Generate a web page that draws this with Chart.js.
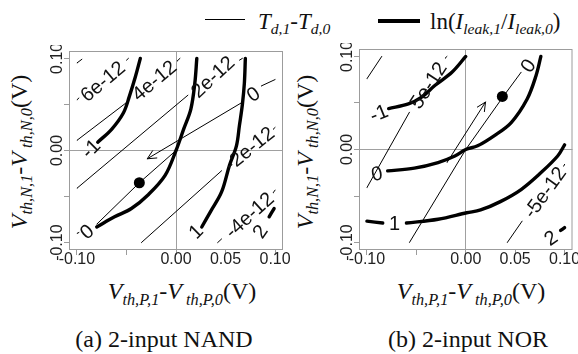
<!DOCTYPE html>
<html>
<head>
<meta charset="utf-8">
<script src="https://cdn.jsdelivr.net/npm/chart.js@4.4.1/dist/chart.umd.min.js"></script>
<style>
  html, body { margin: 0; padding: 0; background: #fff; }
  body { width: 578px; height: 354px; position: relative; overflow: hidden;
         font-family: 'Liberation Serif', 'Times New Roman', serif; color: #111; }
  canvas { position: absolute; }
  .txt { position: absolute; white-space: nowrap; line-height: 1; }
  .it { font-style: italic; }
  .sb { font-size: 0.68em; vertical-align: -0.34em; font-style: italic; }
  .key { position: absolute; height: 0; }
  .ytitle { transform: translate(-50%, -50%) rotate(-90deg); font-size: 24px; }
  .xtitle { transform: translateX(-50%); font-size: 24px; }
  .cap { transform: translateX(-50%); font-size: 24px; }
</style>
</head>
<body>

<div class="key" style="left:205px; top:19px; width:40px; border-top:1.4px solid #000"></div>
<div class="txt" style="left:258px; top:10px; font-size:23px"><span class="it">T</span><span class="sb">d,1</span>-<span class="it">T</span><span class="sb">d,0</span></div>
<div class="key" style="left:378px; top:19px; width:42px; border-top:4px solid #000"></div>
<div class="txt" style="left:430px; top:10px; font-size:23px">ln(<span class="it">I</span><span class="sb">leak,1</span>/<span class="it">I</span><span class="sb">leak,0</span>)</div>

<div class="txt ytitle" style="left:21px; top:152px"><span class="it">V</span><span class="sb">th,N,1</span>-<span class="it">V</span><span class="sb">&nbsp;th,N,0</span>(V)</div>
<div class="txt ytitle" style="left:307px; top:152px"><span class="it">V</span><span class="sb">th,N,1</span>-<span class="it">V</span><span class="sb">&nbsp;th,N,0</span>(V)</div>

<div class="txt xtitle" style="left:182px; top:279px"><span class="it">V</span><span class="sb">th,P,1</span>-<span class="it">V</span><span class="sb">&nbsp;th,P,0</span>(V)</div>
<div class="txt xtitle" style="left:471px; top:279px"><span class="it">V</span><span class="sb">th,P,1</span>-<span class="it">V</span><span class="sb">&nbsp;th,P,0</span>(V)</div>

<div class="txt cap" style="left:164px; top:327px">(a) 2-input NAND</div>
<div class="txt cap" style="left:468px; top:327px">(b) 2-input NOR</div>

<canvas id="nand" width="250" height="240" style="left:40px; top:45px"></canvas>
<canvas id="nor" width="248" height="242" style="left:330px; top:43px"></canvas>

<script>
// axis ticks (R dropped the labels at +-0.05)
const xTicks = [-0.10, -0.05, 0.00, 0.05, 0.10];
const xTickLabels = ['-0.10', '', '0.00', '0.05', '0.10'];
const yTicks = [-0.10, -0.05, 0.00, 0.05, 0.10];
const yTickLabels = ['-0.10', '', '0.00', '', '0.10'];

// ---- (a) NAND ----
// thin lines: delay contours, split where the labels sit
const nandDelay8 = [[[-0.100, 0.095], [-0.095, 0.099]]];
const nandDelay6 = [[[-0.100, 0.055], [-0.098, 0.057]], [[-0.050, 0.098], [-0.048, 0.100]]];
const nandDelay4 = [[[-0.100, 0.011], [-0.050, 0.052]], [[0.001, 0.097], [0.004, 0.100]]];
const nandDelay2 = [[[-0.100, -0.041], [0.012, 0.060]], [[0.064, 0.098], [0.067, 0.100]]];
const nandDelay0 = [[[-0.100, -0.090], [-0.098, -0.089]], [[-0.080, -0.080], [-0.037, -0.035], [0.000, 0.000]],
                    [[0.086, 0.070], [0.100, 0.077]]];
const nandDelayM2 = [[[-0.035, -0.100], [0.046, -0.022]], [[0.098, 0.023], [0.100, 0.025]]];
const nandDelayM4 = [[[0.042, -0.100], [0.046, -0.096]], [[0.098, -0.046], [0.100, -0.043]]];
// thick lines: ln(Ileak,1/Ileak,0) contours
const nandLeakM1 = [[[-0.079, 0.009], [-0.065, 0.023], [-0.053, 0.041], [-0.047, 0.059], [-0.041, 0.080], [-0.036, 0.100]]];
const nandLeak0 = [[[0.021, 0.100], [0.019, 0.073], [0.015, 0.045], [0.008, 0.024], [0.000, 0.000], [-0.011, -0.027],
                    [-0.028, -0.048], [-0.045, -0.063], [-0.062, -0.072], [-0.080, -0.083]]];
const nandLeak1 = [[[0.070, 0.100], [0.069, 0.073], [0.067, 0.050], [0.064, 0.027], [0.061, 0.005], [0.054, -0.016],
                    [0.046, -0.045], [0.035, -0.066], [0.026, -0.083]]];
const nandLeak2 = [[[0.094, -0.072], [0.099, -0.063]]];
const nandArrow = [[0.068, 0.053], [-0.029, -0.009]];
const nandPoint = [-0.037, -0.035];
const nandLabels = [
  ['6e-12', -0.074, 0.075, -40], ['4e-12', -0.022, 0.076, -40], ['2e-12', 0.037, 0.080, -43],
  ['0', 0.078, 0.061, -35], ['-2e-12', 0.074, 0.002, -39], ['-4e-12', 0.074, -0.070, -42],
  ['-1', -0.086, 0.002, -45], ['0', -0.090, -0.088, -40], ['1', 0.020, -0.088, -45], ['2', 0.085, -0.088, -55]
];

// ---- (b) NOR ----
const norDelay10 = [[[-0.100, 0.076], [-0.085, 0.100]]];
const norDelay5 = [[[-0.100, -0.041], [-0.057, 0.040]], [[-0.021, 0.098], [-0.019, 0.100]]];
const norDelay0 = [[[-0.057, -0.100], [0.000, 0.000], [0.038, 0.057], [0.056, 0.083]]];
const norDelayM5 = [[[0.042, -0.100], [0.057, -0.077]], [[0.099, -0.018], [0.100, -0.016]]];
const norLeakM1 = [[[-0.078, 0.044], [-0.058, 0.049], [-0.045, 0.056], [-0.031, 0.069], [-0.014, 0.083], [0.000, 0.100]]];
const norLeak0 = [[[0.076, 0.100], [0.071, 0.079], [0.062, 0.054], [0.046, 0.029], [0.029, 0.015], [0.012, 0.004],
                   [0.000, 0.000], [-0.011, -0.007], [-0.028, -0.014], [-0.052, -0.020], [-0.079, -0.023]]];
const norLeak1 = [[[-0.100, -0.077], [-0.084, -0.079]],
                  [[-0.060, -0.079], [-0.028, -0.075], [0.001, -0.068], [0.015, -0.065], [0.035, -0.056],
                   [0.056, -0.043], [0.076, -0.025], [0.093, -0.007], [0.100, 0.005]]];
const norLeak2 = [[[0.096, -0.087], [0.100, -0.084]]];
const norArrow = [[-0.019, -0.014], [0.020, 0.051]];
const norPoint = [0.037, 0.057];
const norLabels = [
  ['-1', -0.088, 0.039, -22], ['5e-12', -0.038, 0.069, -57], ['0', 0.063, 0.090, -55],
  ['0', -0.090, -0.026, -12], ['1', -0.072, -0.079, 0], ['-5e-12', 0.080, -0.046, -54], ['2', 0.086, -0.095, -35]
];

function lineSets(segs, width, tension) {
  return segs.map(seg => ({
    data: seg.map(p => ({ x: p[0], y: p[1] })),
    showLine: true,
    borderColor: '#000',
    borderWidth: width,
    pointRadius: 0,
    tension: tension,
    borderCapStyle: 'round',
    borderJoinStyle: 'round'
  }));
}

const extras = {
  id: 'extras',
  beforeDatasetsDraw(chart) {
    const a = chart.chartArea;
    const ctx = chart.ctx;
    ctx.save();
    ctx.strokeStyle = '#9c9c9c';
    ctx.lineWidth = 1;
    ctx.strokeRect(a.left + 0.5, a.top + 0.5, a.right - a.left - 1, a.bottom - a.top - 1);
    ctx.restore();
  },
  afterDatasetsDraw(chart, args, opts) {
    const ctx = chart.ctx;
    const xs = chart.scales.x, ys = chart.scales.y;
    ctx.save();
    // arrow head
    const t = opts.arrow[0], h = opts.arrow[1];
    const x1 = xs.getPixelForValue(t[0]), y1 = ys.getPixelForValue(t[1]);
    const x2 = xs.getPixelForValue(h[0]), y2 = ys.getPixelForValue(h[1]);
    const ang = Math.atan2(y2 - y1, x2 - x1);
    ctx.strokeStyle = '#000';
    ctx.lineWidth = 1;
    ctx.beginPath();
    [-0.45, 0.45].forEach(d => {
      ctx.moveTo(x2, y2);
      ctx.lineTo(x2 - 10 * Math.cos(ang + d), y2 - 10 * Math.sin(ang + d));
    });
    ctx.stroke();
    // contour labels
    ctx.fillStyle = '#111';
    ctx.font = '20px "Liberation Sans", Arial, sans-serif';
    ctx.textAlign = 'center';
    ctx.textBaseline = 'middle';
    opts.labels.forEach(l => {
      ctx.save();
      ctx.translate(xs.getPixelForValue(l[1]), ys.getPixelForValue(l[2]));
      ctx.rotate(l[3] * Math.PI / 180);
      ctx.fillText(l[0], 0, 1);
      ctx.restore();
    });
    // y tick labels, vertical like R
    ctx.fillStyle = '#222';
    ctx.font = '16px "Liberation Sans", Arial, sans-serif';
    yTicks.forEach((v, i) => {
      if (!yTickLabels[i]) return;
      ctx.save();
      ctx.translate(chart.chartArea.left - 11, ys.getPixelForValue(v));
      ctx.rotate(-Math.PI / 2);
      ctx.fillText(yTickLabels[i], 0, 0);
      ctx.restore();
    });
    ctx.restore();
  }
};

function zeroLine(c) {
  return c.tick && Math.abs(c.tick.value) < 1e-9 ? '#a0a0a0' : 'rgba(0,0,0,0)';
}

function makePanel(id, thin, thick, arrow, point, labels, padTop, padRight) {
  const datasets = [].concat(
    lineSets(thin, 1, 0),
    lineSets(thick, 3.4, 0.35),
    lineSets([arrow], 1, 0),
    [{ data: [{ x: point[0], y: point[1] }], pointRadius: 5.5, pointBackgroundColor: '#000', pointBorderWidth: 0 }]
  );
  return new Chart(document.getElementById(id), {
    type: 'scatter',
    data: { datasets },
    options: {
      responsive: false,
      animation: false,
      events: [],
      layout: { padding: { top: padTop, right: padRight, left: 0, bottom: 0 } },
      plugins: { legend: { display: false }, tooltip: { enabled: false }, extras: { arrow, labels } },
      scales: {
        x: {
          type: 'linear', min: -0.108, max: 0.108,
          afterBuildTicks: s => { s.ticks = xTicks.map(v => ({ value: v })); },
          afterFit: s => { s.height = 35; },
          ticks: { callback: (v, i) => xTickLabels[i], autoSkip: false, maxRotation: 0, padding: -5,
                   color: '#222', font: { family: 'Liberation Sans', size: 16 } },
          grid: { color: zeroLine, tickColor: '#9c9c9c', tickLength: 5 },
          border: { display: false }
        },
        y: {
          type: 'linear', min: -0.108, max: 0.108,
          afterBuildTicks: s => { s.ticks = yTicks.map(v => ({ value: v })); },
          afterFit: s => { s.width = 29; },
          ticks: { display: false },
          grid: { color: zeroLine, tickColor: '#9c9c9c', tickLength: 5 },
          border: { display: false }
        }
      }
    },
    plugins: [extras]
  });
}

makePanel('nand',
  [].concat(nandDelay8, nandDelay6, nandDelay4, nandDelay2, nandDelay0, nandDelayM2, nandDelayM4),
  [].concat(nandLeakM1, nandLeak0, nandLeak1, nandLeak2),
  nandArrow, nandPoint, nandLabels, 6, 7);

makePanel('nor',
  [].concat(norDelay10, norDelay5, norDelay0, norDelayM5),
  [].concat(norLeakM1, norLeak0, norLeak1, norLeak2),
  norArrow, norPoint, norLabels, 6, 5);
</script>
</body>
</html>
